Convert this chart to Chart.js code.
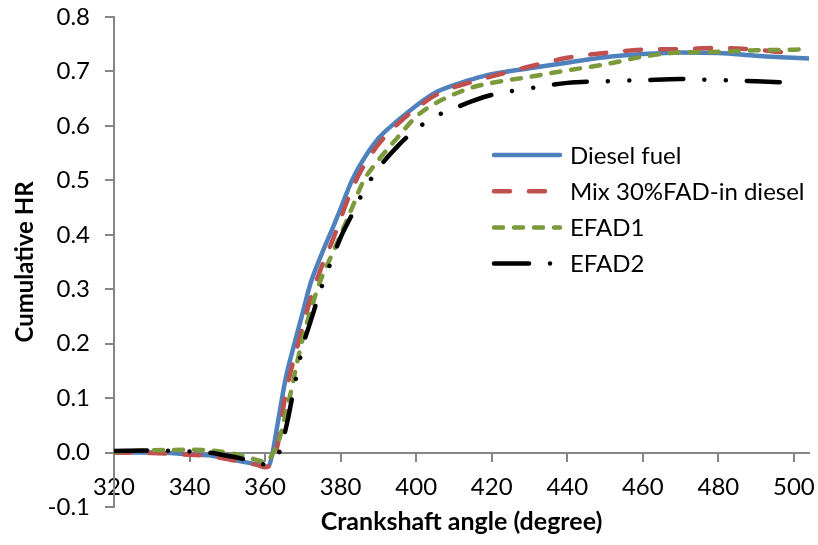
<!DOCTYPE html>
<html>
<head>
<meta charset="utf-8">
<script src="https://cdn.jsdelivr.net/npm/chart.js@4.4.1/dist/chart.umd.min.js"></script>
<style>
  body { margin: 0; background: #fff; }
  #wrap { width: 818px; height: 545px; }
</style>
</head>
<body>
<div id="wrap"><canvas id="hrChart" width="818" height="545"></canvas></div>
<script>
  // crank angle (deg) shared by all four fuels
  const angle = [320, 330, 340, 345, 350, 355, 358, 360, 361, 362, 363, 364, 365, 366, 367, 368,
    370, 372, 375, 378, 380, 383, 386, 390, 395, 400, 405, 410, 415, 420, 430, 440, 450, 460,
    470, 480, 490, 500, 504];

  const dieselFuel = [0, 0, -0.003, -0.005, -0.011, -0.018, -0.022, -0.026, -0.024, 0.0, 0.04, 0.08,
    0.12, 0.153, 0.18, 0.206, 0.258, 0.31, 0.365, 0.414, 0.448, 0.50, 0.538, 0.577, 0.609, 0.637,
    0.661, 0.675, 0.686, 0.695, 0.706, 0.716, 0.726, 0.732, 0.735, 0.734, 0.729, 0.725, 0.724];

  const mix30FAD = [0, -0.001, -0.004, -0.006, -0.012, -0.019, -0.023, -0.027, -0.025, -0.01, 0.005,
    0.04, 0.09, 0.125, 0.155, 0.18, 0.232, 0.282, 0.342, 0.392, 0.43, 0.484, 0.525, 0.566, 0.603,
    0.632, 0.656, 0.671, 0.681, 0.691, 0.709, 0.725, 0.734, 0.740, 0.741, 0.743, 0.740, 0.733, null];

  const efad1 = [0.001, 0.004, 0.005, 0.004, 0.0, -0.008, -0.014, -0.017, -0.014, -0.002, 0.012,
    0.03, 0.058, 0.087, 0.116, 0.15, 0.21, 0.26, 0.322, 0.368, 0.40, 0.449, 0.498, 0.537, 0.578,
    0.617, 0.641, 0.658, 0.671, 0.679, 0.69, 0.702, 0.713, 0.727, 0.735, 0.736, 0.739, 0.74, 0.741];

  const efad2 = [0.003, 0.004, 0.002, 0.0, -0.006, -0.013, -0.018, -0.022, -0.02, -0.012, -0.004,
    0.004, 0.03, 0.06, 0.095, 0.13, 0.195, 0.24, 0.305, 0.36, 0.395, 0.437, 0.479, 0.522, 0.562,
    0.594, 0.617, 0.632, 0.646, 0.657, 0.669, 0.679, 0.682, 0.684, 0.686, 0.684, 0.682, 0.679, null];

  const seriesNames = ["Diesel fuel", "Mix 30%FAD-in diesel", "EFAD1", "EFAD2"];

  const axisGrey = '#868686';
  const baseFont = 'Lato, "DejaVu Sans", sans-serif';

  const toPoints = function (vals) {
    return angle.map((a, i) => ({ x: a, y: vals[i] }));
  };

  // legend drawn by hand so the dash patterns show like the original
  const lineLegend = {
    id: 'lineLegend',
    afterDraw(chart, args, opts) {
      const ctx = chart.ctx;
      chart.data.datasets.forEach(function (ds, i) {
        const y = opts.top + i * opts.rowGap;
        ctx.save();
        ctx.strokeStyle = ds.borderColor;
        ctx.lineWidth = ds.borderWidth;
        ctx.lineCap = 'round';
        ctx.setLineDash(ds.legendDash || ds.borderDash || []);
        ctx.beginPath();
        ctx.moveTo(opts.left, y);
        ctx.lineTo(opts.left + opts.lineLength, y);
        ctx.stroke();
        ctx.restore();
        ctx.save();
        ctx.fillStyle = '#000';
        ctx.font = opts.font;
        ctx.textBaseline = 'middle';
        ctx.fillText(ds.label, opts.left + opts.lineLength + opts.gap, y + 1);
        ctx.restore();
      });
    }
  };

  new Chart(document.getElementById('hrChart'), {
    type: 'line',
    data: {
      datasets: [
        {
          label: seriesNames[0],
          data: toPoints(dieselFuel),
          borderColor: '#4F81BD',
          borderWidth: 4.5,
          order: 4
        },
        {
          label: seriesNames[1],
          data: toPoints(mix30FAD),
          borderColor: '#C0504D',
          borderWidth: 4.5,
          borderDash: [16, 19],
          order: 3
        },
        {
          label: seriesNames[2],
          data: toPoints(efad1),
          borderColor: '#7A9A3C',
          borderWidth: 4.5,
          borderDash: [9, 11],
          order: 2
        },
        {
          label: seriesNames[3],
          data: toPoints(efad2),
          borderColor: '#000000',
          borderWidth: 4.5,
          borderDash: [33, 21, 0.01, 21.5, 0.01, 21],
          legendDash: [35, 21, 0.01, 40],
          order: 1
        }
      ]
    },
    options: {
      responsive: false,
      animation: false,
      devicePixelRatio: 1,
      layout: { padding: { top: 17, right: 9, bottom: 38, left: 0 } },
      elements: {
        point: { radius: 0 },
        line: { cubicInterpolationMode: 'monotone', borderCapStyle: 'round', borderJoinStyle: 'round', fill: false }
      },
      spanGaps: false,
      scales: {
        x: {
          type: 'linear',
          position: { y: 0 },
          min: 320,
          max: 504,
          afterFit: function (scale) {
            scale.height = 48;
            scale.paddingLeft = 0;
            scale.paddingRight = 0;
          },
          ticks: {
            stepSize: 20,
            includeBounds: false,
            padding: 12,
            color: '#000',
            font: { family: baseFont, size: 24 }
          },
          grid: { drawOnChartArea: false, drawTicks: true, tickLength: 8, color: axisGrey, lineWidth: 2 },
          border: { display: true, color: axisGrey, width: 2 },
          title: {
            display: true,
            text: 'Crankshaft angle (degree)',
            color: '#000',
            font: { family: baseFont, size: 25, weight: 'bold' },
            padding: { top: 0, bottom: -36 }
          }
        },
        y: {
          type: 'linear',
          position: 'left',
          min: -0.1,
          max: 0.8,
          afterFit: function (scale) {
            scale.width = 114;
            scale.paddingTop = 0;
            scale.paddingBottom = 0;
          },
          ticks: {
            stepSize: 0.1,
            padding: 15,
            color: '#000',
            font: { family: baseFont, size: 24 },
            callback: function (v) { return v.toFixed(1); }
          },
          grid: { drawOnChartArea: false, drawTicks: true, tickLength: 9, color: axisGrey, lineWidth: 2 },
          border: { display: true, color: axisGrey, width: 2 },
          title: {
            display: true,
            text: 'Cumulative HR',
            color: '#000',
            font: { family: baseFont, size: 24, weight: 'bold' },
            padding: { top: 11, bottom: 0 }
          }
        }
      },
      plugins: {
        legend: { display: false },
        tooltip: { enabled: false },
        lineLegend: {
          left: 494,
          top: 155,
          rowGap: 36.2,
          lineLength: 66,
          gap: 10,
          font: '24px ' + baseFont
        }
      }
    },
    plugins: [lineLegend]
  });
</script>
</body>
</html>
